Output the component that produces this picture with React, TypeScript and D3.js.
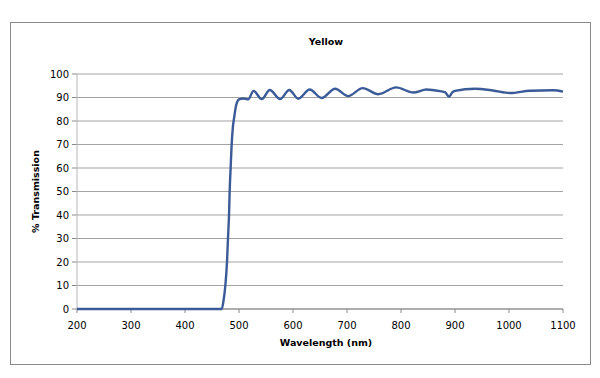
import React from "react";
import * as d3 from "d3";

const wavelengths = [200, 300, 400, 468, 471, 474.7, 477.8, 479.6, 481.5, 482.7, 484.5, 486.4, 488.5, 491.4, 494, 497, 500, 508, 517, 527, 542, 557, 576, 593, 610, 631, 653, 678, 702, 729, 758, 791, 823, 847, 872, 882, 889, 895, 900, 937, 970, 1002, 1039, 1082, 1100];
const transmission = [0, 0, 0, 0, 3, 10, 20, 30, 40, 50, 60, 70, 77, 82, 86, 88.3, 89.2, 89.6, 89.2, 92.8, 89.3, 93.2, 89.3, 93.2, 89.5, 93.4, 89.8, 93.7, 90.6, 94, 91.4, 94.3, 92.1, 93.4, 92.7, 92.2, 90.3, 92.2, 92.8, 93.7, 93, 91.9, 92.9, 93.1, 92.5];
const xTicks = [200, 300, 400, 500, 600, 700, 800, 900, 1000, 1100];
const yTicks = [0, 10, 20, 30, 40, 50, 60, 70, 80, 90, 100];
const title = "Yellow";
const xTitle = "Wavelength (nm)";
const yTitle = "% Transmission";

export default function App() {
  const W = 600, H = 378;
  const left = 77, right = 563, top = 74, bottom = 309;
  const x = d3.scaleLinear().domain([200, 1100]).range([left, right]);
  const y = d3.scaleLinear().domain([0, 100]).range([bottom, top]);
  const pts = wavelengths.map((w, i) => [w, transmission[i]] as [number, number]);
  const line = d3.line<[number, number]>().x(d => x(d[0])).y(d => y(d[1])).curve(d3.curveMonotoneX);
  const font = "'DejaVu Sans', Verdana, sans-serif";
  return (
    <svg width={W} height={H} style={{ position: "absolute", left: 0, top: 0, background: "#fff" }} fontFamily={font}>
      <rect x={10.5} y={22.5} width={580} height={342} fill="#fff" stroke="#8a8a8a" strokeWidth={1} />
      <text x={326} y={45} textAnchor="middle" fontSize={9.5} fontWeight="bold" fill="#000">{title}</text>
      {yTicks.map(t => (
        <g key={"y" + t}>
          <line x1={left} x2={right} y1={y(t)} y2={y(t)} stroke="#a3a3a3" strokeWidth={1.2} />
          <line x1={left - 5} x2={left} y1={y(t)} y2={y(t)} stroke="#8a8a8a" strokeWidth={1} />
          <text x={69} y={y(t)} dy="0.35em" textAnchor="end" fontSize={10} fill="#000">{t}</text>
        </g>
      ))}
      <line x1={left} x2={left} y1={top} y2={bottom} stroke="#b8b8b8" strokeWidth={1} />
      <line x1={left} x2={right} y1={bottom} y2={bottom} stroke="#8a8a8a" strokeWidth={1} />
      {xTicks.map(t => (
        <g key={"x" + t}>
          <line x1={x(t)} x2={x(t)} y1={bottom} y2={bottom + 4} stroke="#8a8a8a" strokeWidth={1} />
          <text x={x(t)} y={325} dy="0.35em" textAnchor="middle" fontSize={10} fill="#000">{t}</text>
        </g>
      ))}
      <text x={326} y={343} dy="0.35em" textAnchor="middle" fontSize={9.5} fontWeight="bold" fill="#000">{xTitle}</text>
      <text transform={`translate(36,${(top + bottom) / 2}) rotate(-90)`} dy="0.35em" textAnchor="middle" fontSize={9.5} fontWeight="bold" fill="#000">{yTitle}</text>
      <path d={line(pts) || ""} fill="none" stroke="#3b5b98" strokeWidth={2.4} strokeLinejoin="round" />
    </svg>
  );
}
